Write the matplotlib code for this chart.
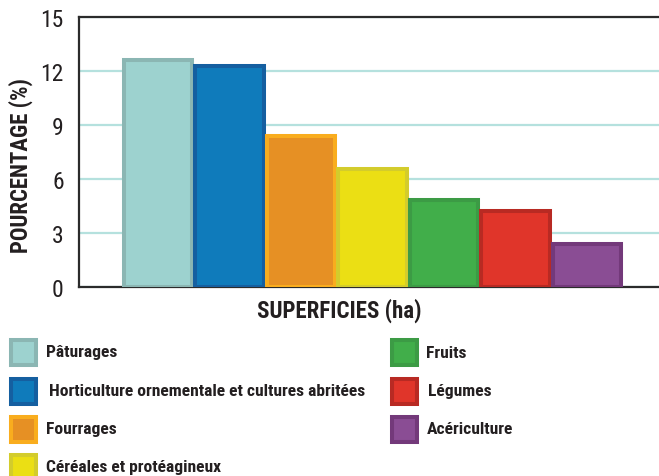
"""
Bar chart: pourcentage par type de culture (superficies).
"""

import matplotlib
matplotlib.use("Agg")
import matplotlib.pyplot as plt
from matplotlib.patches import Rectangle

# Data
categories = ["Pâturages", "Horticulture ornementale et cultures abritées", "Fourrages",
              "Céréales et protéagineux", "Fruits", "Légumes", "Acériculture"]
values = [12.6, 12.3, 8.4, 6.55, 4.83, 4.22, 2.4]
yticks = [0, 3, 6, 9, 12, 15]

fill_colors = ["#9dd2cf", "#0f7bbb", "#e69024", "#ebdf14", "#41ae4a", "#e0352a", "#8a4d94"]
edge_colors = ["#8bb6b3", "#155fa0", "#f9ad1e", "#d3cc2c", "#3c9b45", "#b82a23", "#73397a"]

TEXT = "#231f20"
plt.rcParams['font.family'] = ['Roboto Condensed', 'DejaVu Sans']

W, H = 659, 477
fig = plt.figure(figsize=(W / 100, H / 100), dpi=100)
ax = fig.add_axes([79 / W, 1 - 288 / H, 1 - 79 / W, (288 - 18) / H])

# Bars
xpos = list(range(len(values)))
ax.bar(xpos, values, width=0.955, color=fill_colors, edgecolor=edge_colors, linewidth=2.9, zorder=3)

ax.set_xlim(-1.105, 7.007)
ax.set_ylim(0, 15)
ax.set_yticks(yticks)
ax.set_yticklabels([str(t) for t in yticks], fontsize=17, color=TEXT)
ax.tick_params(axis='y', length=0, pad=11)
ax.set_xticks([])
ax.yaxis.grid(True, color="#b5e1de", linewidth=1.6, zorder=0)
ax.set_axisbelow(True)

for side in ['left', 'bottom', 'top']:
    ax.spines[side].set_color("#2b2b2b")
    ax.spines[side].set_linewidth(1.6)
ax.spines['right'].set_visible(False)

# Axis titles
fig.text(21 / W, 1 - 166 / H, "POURCENTAGE (%)", fontsize=16.4, fontweight='bold', color=TEXT,
         rotation=90, ha='center', va='center')
fig.text(339 / W, 1 - 311 / H, "SUPERFICIES (ha)", fontsize=16.5, fontweight='bold', color=TEXT,
         ha='center', va='center')

# Legend (two columns, placed by hand)
row_tops = [339, 378, 416, 454]
key_x = [9, 390]
text_x = [[46, 49, 46, 46], [426, 428, 427]]
for i, label in enumerate(categories):
    col = 0 if i < 4 else 1
    row = i if i < 4 else i - 4
    top = row_tops[row]
    x0 = key_x[col] + 2
    y0 = top + 2
    rect = Rectangle((x0 / W, 1 - (y0 + 25) / H), 25 / W, 25 / H, transform=fig.transFigure,
                     facecolor=fill_colors[i], edgecolor=edge_colors[i], linewidth=2.9)
    fig.add_artist(rect)
    fig.text(text_x[col][row] / W, 1 - (top + 14) / H, label, fontsize=12.6, fontweight='bold',
             color=TEXT, ha='left', va='center')

fig.savefig("out.png", dpi=100)
